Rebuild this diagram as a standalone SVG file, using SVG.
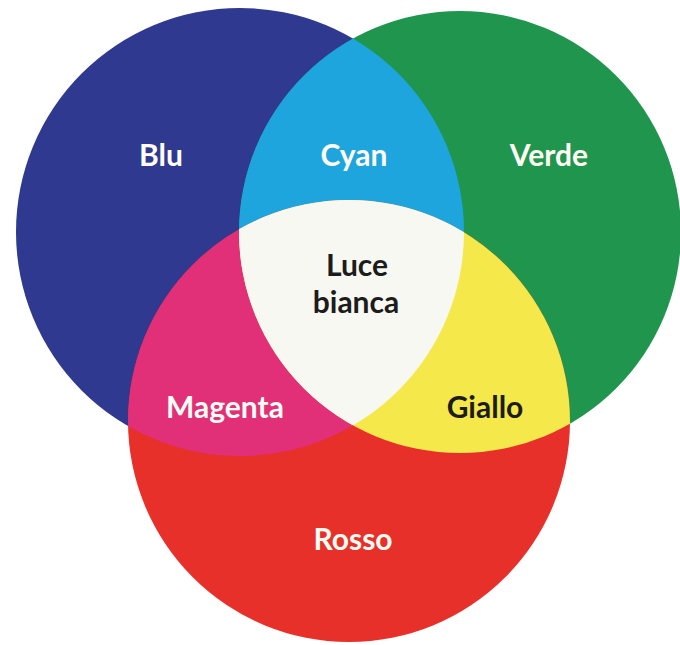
<svg xmlns="http://www.w3.org/2000/svg" width="680" height="645" viewBox="0 0 680 645">
<style>
.lbl{font-family:Lato,"Open Sans",sans-serif;font-weight:700;font-size:30px;text-anchor:middle}
.w{fill:#fffdf4}
.k{fill:#1c1c1c}
</style>
<defs>
<circle id="cB" cx="240" cy="232" r="224"/>
<circle id="cG" cx="460" cy="232" r="221"/>
<circle id="cR" cx="349" cy="421" r="221"/>
<clipPath id="clipB"><use href="#cB"/></clipPath>
<clipPath id="clipG"><use href="#cG"/></clipPath>
<clipPath id="clipR"><use href="#cR"/></clipPath>
</defs>
<rect width="680" height="645" fill="#ffffff"/>
<g id="blu"><use href="#cB" fill="#2f3990"/></g>
<g id="verde"><use href="#cG" fill="#1f954d"/></g>
<g id="rosso"><use href="#cR" fill="#e8302a"/></g>
<g id="cyan" clip-path="url(#clipB)"><use href="#cG" fill="#1fa5de"/></g>
<g id="magenta" clip-path="url(#clipB)"><use href="#cR" fill="#e12f78"/></g>
<g id="giallo" clip-path="url(#clipG)"><use href="#cR" fill="#f4e84a"/></g>
<g id="luce-bianca" clip-path="url(#clipB)"><g clip-path="url(#clipG)"><use href="#cR" fill="#f8f8f3"/></g></g>
<g id="labels">
<text class="lbl w" x="161" y="166">Blu</text>
<text class="lbl w" x="354" y="166">Cyan</text>
<text class="lbl w" x="549" y="166">Verde</text>
<text class="lbl k" x="357" y="276">Luce</text>
<text class="lbl k" x="356" y="313">bianca</text>
<text class="lbl w" x="225" y="418">Magenta</text>
<text class="lbl k" x="485" y="418">Giallo</text>
<text class="lbl w" x="353" y="550">Rosso</text>
</g>
</svg>
